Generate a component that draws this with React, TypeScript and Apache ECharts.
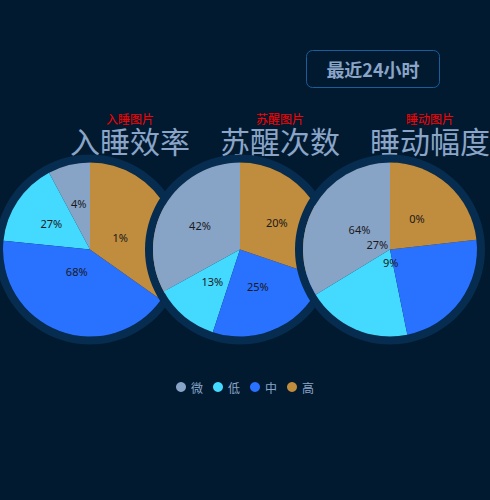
import { useEffect, useRef } from 'react';
import * as echarts from 'echarts';

const levels = ['微', '低', '中', '高'];
const levelColors = ['#87a3c6', '#44d9ff', '#2971ff', '#c08c3e'];

const chartTitles = ['入睡效率', '苏醒次数', '睡动幅度'];
const imageAlts = ['入睡图片', '苏醒图片', '睡动图片'];

// slice sizes as drawn (微, 低, 中, 高)
const sleepEfficiency = [7.8, 15.6, 41.8, 34.8];
const wakeCount = [33.0, 11.9, 24.8, 30.2];
const moveRange = [33.7, 19.5, 23.6, 23.2];

// percent texts printed on the slices (微, 低, 中, 高)
const sleepEfficiencyPct = [4, 27, 68, 1];
const wakeCountPct = [42, 13, 25, 20];
const moveRangePct = [64, 27, 9, 0];

const periodLabel = '最近24小时';

// layout
const centersX = [90, 240, 390];
const centerY = 249.5;
const pieRadius = 87;
const ringWidth = 8;
const titleShift = 40;
const textColor = '#8aa5c8';
const ringColor = '#062c4f';
// small nudges of the slice labels, px
const labelNudge = [
  [[0, -1], [0, 0], [3, -22], [-11, 9]],
  [[0, 0], [2, -4], [-3, -5], [-1, 0]],
  [[10, 3], [6, -48], [-37, -14], [-4, 4]],
];

const pieValues = [sleepEfficiency, wakeCount, moveRange];
const pieTexts = [sleepEfficiencyPct, wakeCountPct, moveRangePct];

function buildOption() {
  const series: any[] = [];
  pieValues.forEach((values, i) => {
    const center = [centersX[i], centerY];
    series.push({
      type: 'pie',
      silent: true,
      center,
      radius: [pieRadius, pieRadius + ringWidth],
      label: { show: false },
      labelLine: { show: false },
      data: [{ value: 1, itemStyle: { color: ringColor } }],
    });
    series.push({
      type: 'pie',
      name: chartTitles[i],
      center,
      radius: [0, pieRadius],
      clockwise: false,
      startAngle: 90,
      avoidLabelOverlap: false,
      emphasis: { scale: false },
      label: {
        show: true,
        position: 'inside',
        formatter: (p: any) => pieTexts[i][p.dataIndex] + '%',
        color: '#1a1a1a',
        fontSize: 11,
        fontFamily: 'Noto Sans',
      },
      labelLine: { show: false },
      labelLayout: (p: any) => {
        const [dx, dy] = labelNudge[i][p.dataIndex];
        return {
          x: p.labelRect.x + p.labelRect.width / 2 + dx,
          y: p.labelRect.y + p.labelRect.height / 2 + dy,
        };
      },
      data: levels.map((name, k) => ({
        name,
        value: values[k],
        itemStyle: { color: levelColors[k] },
      })),
    });
  });

  const graphic: any[] = [
    {
      type: 'rect',
      shape: { x: 306.5, y: 50.5, width: 133, height: 37, r: 6 },
      style: { fill: 'transparent', stroke: '#1a5c9c', lineWidth: 1 },
    },
    {
      type: 'text',
      x: 373,
      y: 69,
      style: {
        text: periodLabel,
        fill: textColor,
        font: 'bold 18px "Noto Sans CJK SC"',
        align: 'center',
        verticalAlign: 'middle',
      },
    },
  ];
  chartTitles.forEach((t, i) => {
    graphic.push({
      type: 'text',
      x: centersX[i] + titleShift,
      y: 140,
      style: {
        text: t,
        fill: textColor,
        font: '30px "Noto Sans CJK SC"',
        lineHeight: 30,
        align: 'center',
        verticalAlign: 'middle',
      },
    });
    graphic.push({
      type: 'text',
      x: centersX[i] + titleShift,
      y: 118,
      style: {
        text: imageAlts[i],
        fill: '#ff0000',
        font: '12px "Noto Sans CJK SC"',
        lineHeight: 12,
        align: 'center',
        verticalAlign: 'middle',
      },
    });
  });

  return {
    animation: false,
    backgroundColor: '#011a30',
    color: levelColors,
    legend: {
      data: levels,
      left: 171,
      top: 376,
      icon: 'circle',
      itemWidth: 10,
      itemHeight: 10,
      itemGap: 10,
      selectedMode: false,
      textStyle: {
        color: textColor,
        fontSize: 12,
        fontFamily: 'Noto Sans CJK SC',
      },
    },
    graphic,
    series,
  };
}

export default function App() {
  const chartRef = useRef<HTMLDivElement>(null);

  useEffect(() => {
    if (!chartRef.current) return;
    const chart = echarts.init(chartRef.current, undefined, { renderer: 'svg' });
    chart.setOption(buildOption());
    return () => {
      chart.dispose();
    };
  }, []);

  return (
    <div
      ref={chartRef}
      style={{ position: 'fixed', left: 0, top: 0, width: 490, height: 500 }}
    ></div>
  );
}
